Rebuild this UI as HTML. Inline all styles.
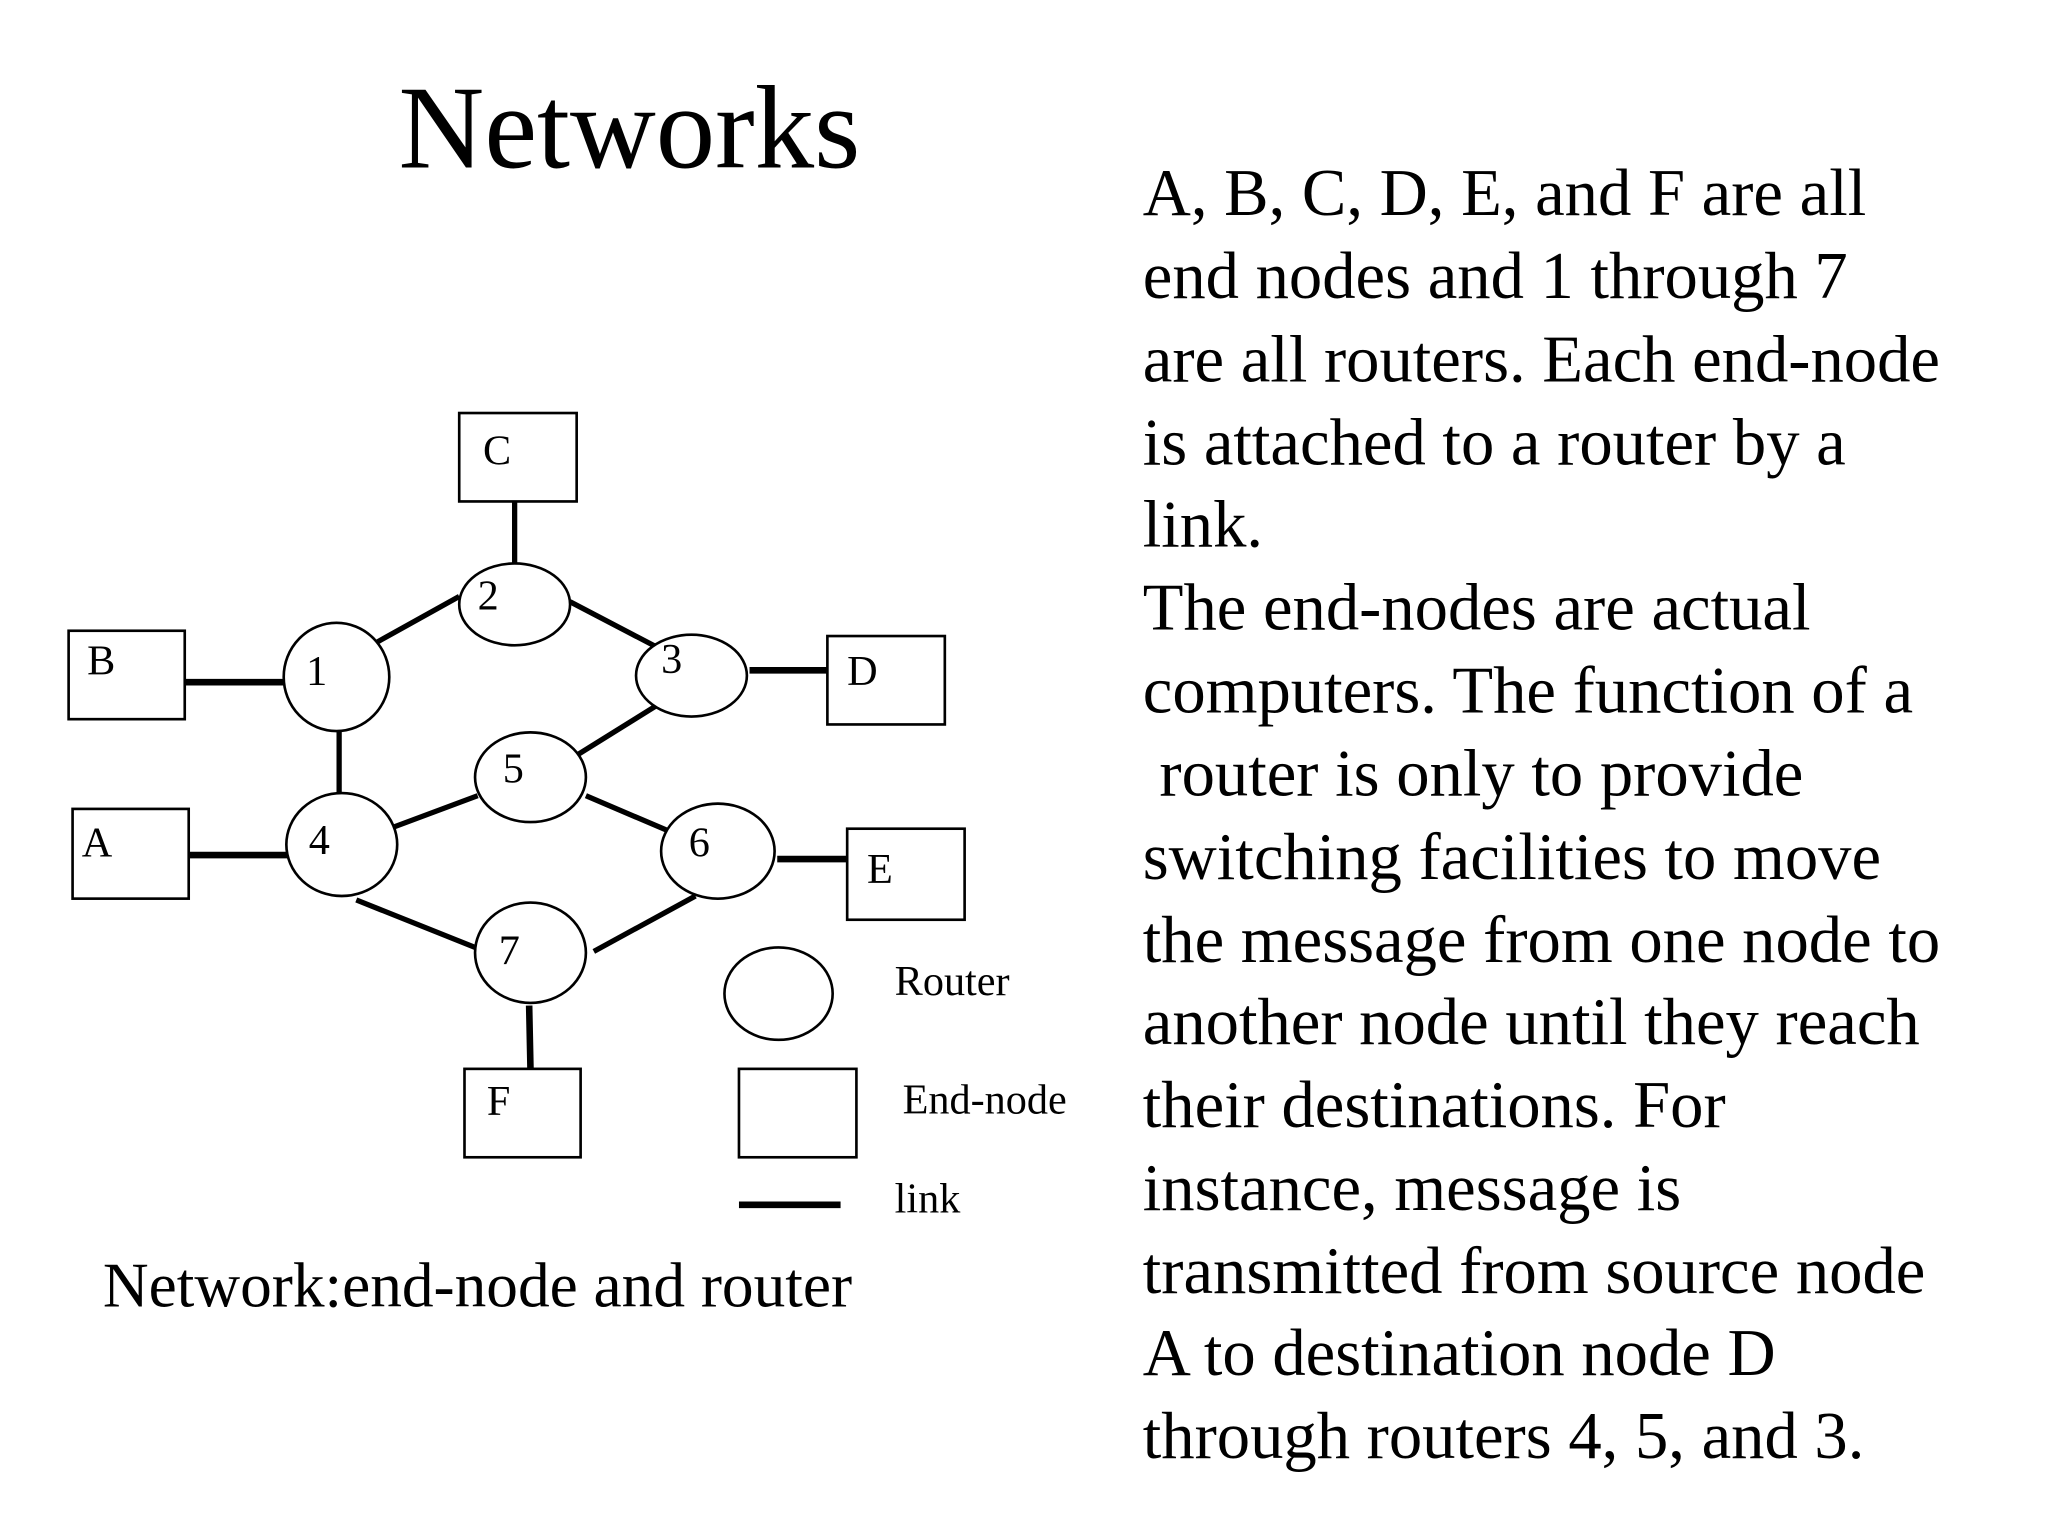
<!DOCTYPE html>
<html><head><meta charset="utf-8"><style>html,body{margin:0;padding:0;background:#fff}svg{display:block}</style></head>
<body>
<svg width="2048" height="1536" viewBox="0 0 1552 1164" xmlns="http://www.w3.org/2000/svg" font-family="'Liberation Serif', serif">
<rect width="1552" height="1164" fill="#fff"/>
<text x="477" y="127" font-size="90" text-anchor="middle">Networks</text>
<g font-size="50.5">
<text x="866" y="163">A, B, C, D, E, and F are all</text>
<text x="866" y="226">end nodes and 1 through 7</text>
<text x="866" y="289">are all routers. Each end-node</text>
<text x="866" y="352">is attached to a router by a</text>
<text x="866" y="414">link.</text>
<text x="866" y="477">The end-nodes are actual</text>
<text x="866" y="540">computers. The function of a</text>
<text x="866" y="603" xml:space="preserve"> router is only to provide</text>
<text x="866" y="666">switching facilities to move</text>
<text x="866" y="729">the message from one node to</text>
<text x="866" y="791">another node until they reach</text>
<text x="866" y="854">their destinations. For</text>
<text x="866" y="917">instance, message is</text>
<text x="866" y="980">transmitted from source node</text>
<text x="866" y="1042">A to destination node D</text>
<text x="866" y="1105">through routers 4, 5, and 3.</text>
</g>
<g stroke="#000" stroke-width="4" fill="none">
<line x1="390" y1="380" x2="390" y2="430"/>
<line x1="285" y1="487" x2="348" y2="452"/>
<line x1="432" y1="456" x2="497" y2="490"/>
<line x1="140" y1="517" x2="220" y2="517" stroke-width="5"/>
<line x1="568" y1="508" x2="627" y2="508" stroke-width="5"/>
<line x1="257" y1="547" x2="257" y2="611"/>
<line x1="497" y1="535" x2="436" y2="573"/>
<line x1="295" y1="628" x2="362" y2="603"/>
<line x1="444" y1="603" x2="512" y2="632"/>
<line x1="143" y1="648" x2="218" y2="648" stroke-width="5"/>
<line x1="589" y1="651" x2="642" y2="651" stroke-width="5"/>
<line x1="270" y1="682" x2="365" y2="720"/>
<line x1="450" y1="721" x2="527" y2="679"/>
<line x1="401" y1="762" x2="402" y2="810" stroke-width="5"/>
<line x1="560" y1="913" x2="637" y2="913" stroke-width="5"/>
</g>
<g stroke="#000" stroke-width="2" fill="#fff">
<rect x="348" y="313" width="89" height="67"/>
<rect x="52" y="478" width="88" height="67"/>
<rect x="627" y="482" width="89" height="67"/>
<rect x="55" y="613" width="88" height="68"/>
<rect x="642" y="628" width="89" height="69"/>
<rect x="352" y="810" width="88" height="67"/>
<rect x="560" y="810" width="89" height="67"/>
<ellipse cx="390" cy="458" rx="42" ry="31"/>
<ellipse cx="255" cy="513" rx="40" ry="41"/>
<ellipse cx="524" cy="512" rx="42" ry="31"/>
<ellipse cx="402" cy="589" rx="42" ry="34"/>
<ellipse cx="259" cy="640" rx="42" ry="39"/>
<ellipse cx="544" cy="645" rx="43" ry="36"/>
<ellipse cx="402" cy="722" rx="42" ry="38"/>
<ellipse cx="590" cy="753" rx="41" ry="35"/>
</g>
<g font-size="32">
<text x="366" y="352">C</text>
<text x="362" y="462">2</text>
<text x="66" y="511">B</text>
<text x="232" y="519">1</text>
<text x="501" y="510">3</text>
<text x="642" y="519">D</text>
<text x="381" y="593">5</text>
<text x="62" y="649">A</text>
<text x="234" y="647">4</text>
<text x="522" y="649">6</text>
<text x="657" y="669">E</text>
<text x="378" y="731">7</text>
<text x="369" y="845">F</text>
<text x="678" y="754">Router</text>
<text x="684" y="844">End-node</text>
<text x="678" y="919">link</text>
</g>
<text x="78" y="990" font-size="48">Network:end-node and router</text>
</svg>
</body></html>
